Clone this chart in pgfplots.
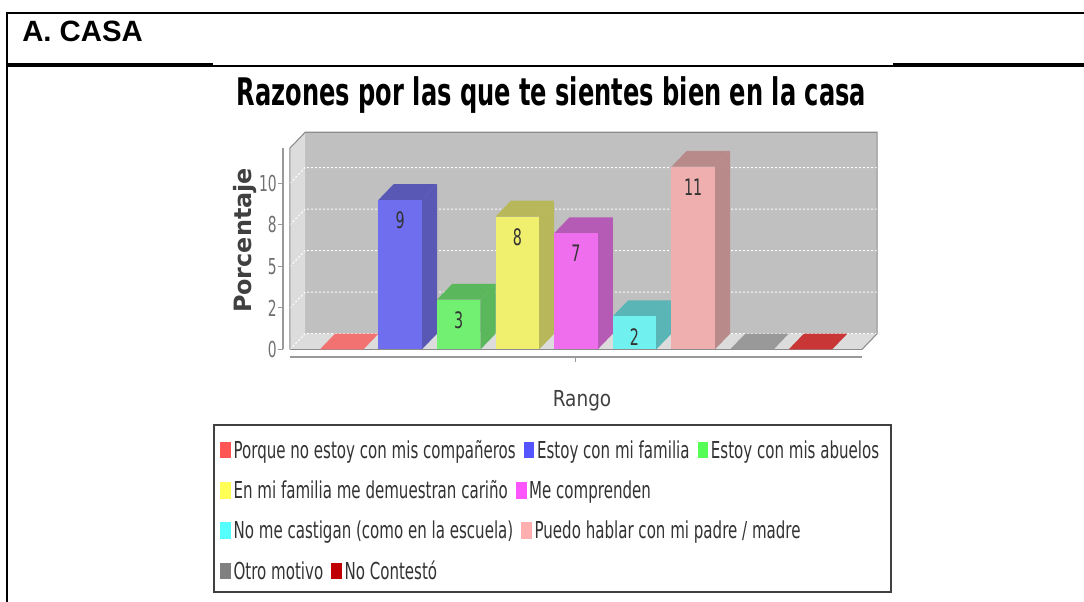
\documentclass[border=0pt]{standalone}
\usepackage{fontspec}
\setmainfont{Liberation Sans}
\newfontfamily\narrowfont[FakeStretch=0.63]{DejaVu Sans}
\newfontfamily\legfont[FakeStretch=0.645]{DejaVu Sans}
\newfontfamily\titlefont[FakeStretch=0.635]{DejaVu Sans}
\newfontfamily\rangofont[FakeStretch=0.84]{DejaVu Sans}
\newfontfamily\labfont{DejaVu Sans}
\usepackage{pgfplots}
\pgfplotsset{compat=1.18}
\usepackage{pgfplotstable}

% chart colours
\definecolor{wallback}{HTML}{C0C0C0}
\definecolor{wallside}{HTML}{DCDCDC}
\definecolor{outline}{HTML}{8C8C8C}
\definecolor{axisgray}{HTML}{999999}
\definecolor{tickgray}{HTML}{707070}
\definecolor{labgray}{HTML}{333333}
\definecolor{legtext}{HTML}{333333}
\definecolor{legborder}{HTML}{404040}
% bar faces
\definecolor{front0}{HTML}{F27272}\definecolor{side0}{HTML}{F27272}
\definecolor{front1}{HTML}{6E6EEE}\definecolor{side1}{HTML}{5959B5}
\definecolor{front2}{HTML}{72F072}\definecolor{side2}{HTML}{5BB75B}
\definecolor{front3}{HTML}{F0F06E}\definecolor{side3}{HTML}{B8B85A}
\definecolor{front4}{HTML}{EE6EEE}\definecolor{side4}{HTML}{B55AB5}
\definecolor{front5}{HTML}{71F0F0}\definecolor{side5}{HTML}{5AB6B6}
\definecolor{front6}{HTML}{EFAFAF}\definecolor{side6}{HTML}{B98A8A}
\definecolor{front7}{HTML}{999999}\definecolor{side7}{HTML}{999999}
\definecolor{front8}{HTML}{C83636}\definecolor{side8}{HTML}{C83636}
% legend
\definecolor{c0}{HTML}{FF5555}
\definecolor{c1}{HTML}{5555FF}
\definecolor{c2}{HTML}{55FF55}
\definecolor{c3}{HTML}{FFFF55}
\definecolor{c4}{HTML}{FF55FF}
\definecolor{c5}{HTML}{55FFFF}
\definecolor{c6}{HTML}{FFAFAF}
\definecolor{c7}{HTML}{808080}
\definecolor{c8}{HTML}{C00000}

\pgfplotstableread{
x y
0 0
1 9
2 3
3 8
4 7
5 2
6 11
7 0
8 0
}\razones

% 3d look: depth offset and half bar width, in axis units
\def\bdx{0.26}
\def\bdy{0.95}
\def\bhw{0.37}

\newcommand\barthreed[2]{%
  \pgfmathsetmacro\xa{#1-\bhw}%
  \pgfmathsetmacro\xb{#1+\bhw}%
  \pgfmathsetmacro\xc{#1+\bhw+\bdx}%
  \pgfmathsetmacro\xd{#1-\bhw+\bdx}%
  \pgfmathsetmacro\ytop{#2}%
  \pgfmathsetmacro\yback{#2+\bdy}%
  \edef\temp{%
    \noexpand\addplot[fill=side#1, draw=none] coordinates {(\xb,0) (\xc,\bdy) (\xc,\yback) (\xb,\ytop)};
    \noexpand\addplot[fill=side#1, draw=none] coordinates {(\xa,\ytop) (\xd,\yback) (\xc,\yback) (\xb,\ytop)};
    \noexpand\addplot[fill=front#1, draw=none] coordinates {(\xa,0) (\xb,0) (\xb,\ytop) (\xa,\ytop)};
  }\temp}

\newcommand\sq[1]{{\color{#1}\rule{8pt}{12.5pt}}\hspace{2pt}}
\newcommand\gap{\hspace{6pt}}

\begin{document}
\begin{tikzpicture}[x=0.75pt,y=0.75pt]
\useasboundingbox (0,0) rectangle (1084,602);

% table frame
\draw[line width=1.5pt] (7.3,0) -- (7.3,590);
\draw[line width=1.5pt] (6.5,589.2) -- (1084,589.2);
\draw[line width=2.5pt] (6.5,537) -- (213,537);
\draw[line width=2.5pt] (893,537) -- (1084,537);
\draw[line width=1.3pt] (213,536.3) -- (893,536.3);
\node[anchor=base west, inner sep=0pt, font=\bfseries\fontsize{22}{24}\selectfont] at (22,560) {A. CASA};

\coordinate (axo) at (282.9,239.2);
\begin{axis}[
  at={(axo)}, anchor=south west,
  x=43.95pt, y=12.465pt,
  xmin=-1.0, xmax=9.15, ymin=-0.8, ymax=13.1,
  enlargelimits=false, clip=false,
  axis line style={draw=none},
  xtick=\empty,
  ytick={0,2.5,5,7.5,10}, yticklabels={0,2,5,8,10},
  ytick pos=left, tick align=outside,
  major tick length=3.5pt,
  tick style={draw=axisgray, line width=0.75pt},
  yticklabel style={font=\narrowfont\fontsize{16.5}{18}\selectfont, text=tickgray, inner sep=1pt},
]
% walls and floor
\fill[wallback] (axis cs:-0.62,0.95) -- (axis cs:9.14,0.95) -- (axis cs:9.14,13.07) -- (axis cs:-0.62,13.07) -- cycle;
\fill[wallside] (axis cs:-0.88,0) -- (axis cs:-0.62,0.95) -- (axis cs:-0.62,13.07) -- (axis cs:-0.88,12.12) -- cycle;
\fill[wallside] (axis cs:-0.88,0) -- (axis cs:8.88,0) -- (axis cs:9.14,0.95) -- (axis cs:-0.62,0.95) -- cycle;
% grid on the walls
\tikzset{wallgrid/.style={white, line width=0.75pt, dash pattern=on 1.5pt off 1.5pt}}
\draw[wallgrid] (axis cs:-0.88,0) -- (axis cs:-0.62,0.95) -- (axis cs:9.14,0.95);
\draw[wallgrid] (axis cs:-0.88,2.5) -- (axis cs:-0.62,3.45) -- (axis cs:9.14,3.45);
\draw[wallgrid] (axis cs:-0.88,5) -- (axis cs:-0.62,5.95) -- (axis cs:9.14,5.95);
\draw[wallgrid] (axis cs:-0.88,7.5) -- (axis cs:-0.62,8.45) -- (axis cs:9.14,8.45);
\draw[wallgrid] (axis cs:-0.88,10) -- (axis cs:-0.62,10.95) -- (axis cs:9.14,10.95);
% outline of the plot box
\draw[outline, line width=0.8pt] (axis cs:-0.88,0) -- (axis cs:-0.88,12.12) -- (axis cs:-0.62,13.07) -- (axis cs:9.14,13.07) -- (axis cs:9.14,0.95) -- (axis cs:8.88,0);
\draw[outline, line width=1.3pt] (axis cs:-0.88,0) -- (axis cs:8.88,0);

% bars
\pgfplotsforeachungrouped \i in {0,...,8}{%
  \pgfplotstablegetelem{\i}{y}\of\razones
  \let\barval\pgfplotsretval
  \barthreed{\i}{\barval}%
}

% axis lines
\draw[axisgray, line width=0.9pt] (axis cs:-1.0,0) -- (axis cs:-1.0,12.12);
\draw[axisgray, line width=1.6pt] (axis cs:-0.88,-0.47) -- (axis cs:8.88,-0.47);
\draw[axisgray, line width=0.75pt] (axis cs:4,-0.47) -- (axis cs:4,-0.75);

% value labels
\addplot[only marks, mark=none, point meta=explicit symbolic,
  nodes near coords={\pgfplotspointmeta},
  every node near coord/.append style={anchor=center, inner sep=0pt,
    font=\narrowfont\fontsize{17}{18}\selectfont, text=labgray},
  restrict expr to domain={\thisrow{y}}{0.5:100}]
  table[x=x, y expr=\thisrow{y}-1.23, meta=y] {\razones};
\end{axis}

% titles
\node[anchor=base, inner sep=0pt, font=\titlefont\bfseries\fontsize{28.5}{30}\selectfont] at (551.5,496) {Razones por las que te sientes bien en la casa};
\node[rotate=90, inner sep=0pt, text=legborder, font=\labfont\bfseries\fontsize{17.9}{20}\selectfont] at (245,361.5) {Porcentaje};
\node[anchor=base, inner sep=0pt, text=legborder, font=\rangofont\fontsize{16.5}{18}\selectfont] at (582,195.3) {Rango};

% legend
\draw[legborder, line width=1.1pt] (214,10) rectangle (891,177);
\begin{scope}[every node/.style={anchor=base west, inner sep=0pt, text=legtext, font=\legfont\fontsize{17.5}{20}\selectfont}]
\node at (220,143.7) {\sq{c0}Porque no estoy con mis compañeros\gap\sq{c1}Estoy con mi familia\gap\sq{c2}Estoy con mis abuelos};
\node at (220,103.4) {\sq{c3}En mi familia me demuestran cariño\gap\sq{c4}Me comprenden};
\node at (220,63.1) {\sq{c5}No me castigan (como en la escuela)\gap\sq{c6}Puedo hablar con mi padre / madre};
\node at (220,22.8) {\sq{c7}Otro motivo\gap\sq{c8}No Contestó};
\end{scope}
\end{tikzpicture}
\end{document}
